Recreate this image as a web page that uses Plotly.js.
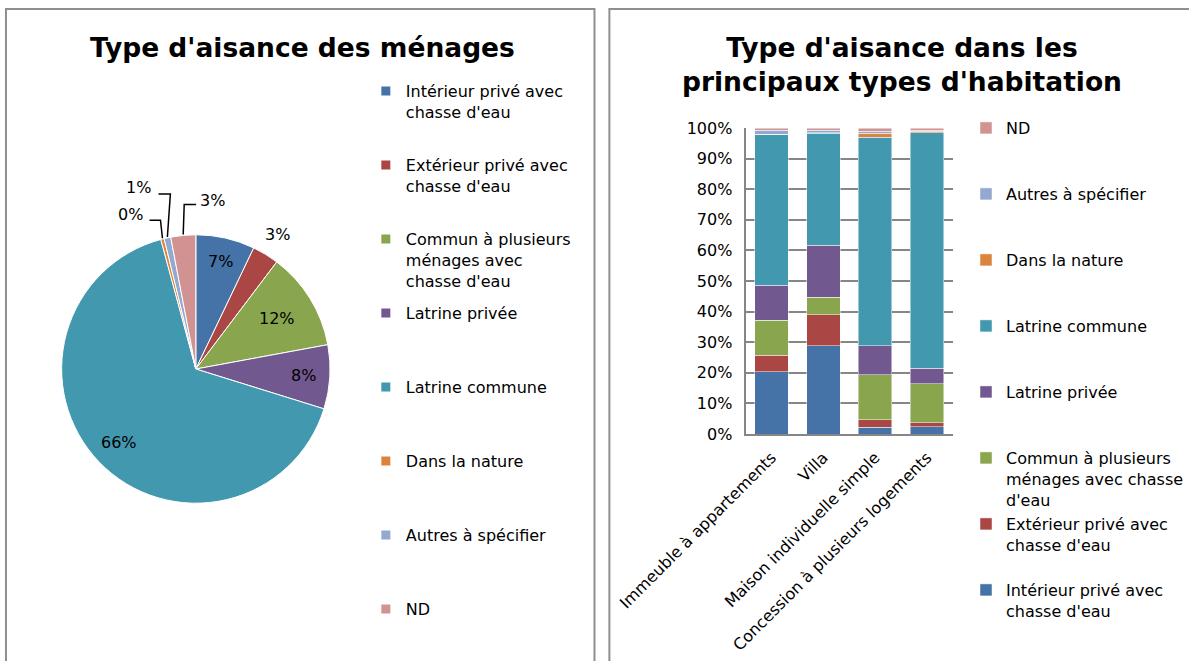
<!DOCTYPE html>
<html><head><meta charset="utf-8">
<script src="https://cdn.plot.ly/plotly-3.0.1.min.js"></script>
<style>html,body{margin:0;padding:0;background:#fff}#chart{width:1189px;height:661px}</style>
</head><body><div id="chart"></div>
<script>
// ---------- DATA ----------
const pieCategories = ["Intérieur privé avec chasse d'eau", "Extérieur privé avec chasse d'eau",
  "Commun à plusieurs ménages avec chasse d'eau", "Latrine privée", "Latrine commune",
  "Dans la nature", "Autres à spécifier", "ND"];
const pieValues = [7.1, 3.2, 11.8, 7.7, 66.0, 0.4, 0.8, 3.0];
const pieLegendLabels = ["Intérieur privé avec<br>chasse d'eau", "Extérieur privé avec<br>chasse d'eau",
  "Commun à plusieurs<br>ménages avec<br>chasse d'eau", "Latrine privée", "Latrine commune",
  "Dans la nature", "Autres à spécifier", "ND"];

const habitations = ["Immeuble à appartements", "Villa", "Maison individuelle simple", "Concession à plusieurs logements"];
const interieurPrive = [20.4, 28.8, 2.2, 2.4];
const exterieurPrive = [5.4, 10.1, 2.5, 1.3];
const communPlusieurs = [11.3, 5.8, 14.6, 12.8];
const latrinePrivee = [11.5, 17.0, 9.5, 5.0];
const latrineCommune = [49.3, 36.6, 68.2, 77.0];
const dansNature = [0.1, 0.2, 1.3, 0.5];
const autresSpecifier = [1.2, 0.8, 0.7, 0.3];
const nonDeclare = [0.8, 0.7, 1.0, 0.7];
const barLegendLabels = ["Intérieur privé avec<br>chasse d'eau", "Extérieur privé avec<br>chasse d'eau",
  "Commun à plusieurs<br>ménages avec chasse<br>d'eau", "Latrine privée", "Latrine commune",
  "Dans la nature", "Autres à spécifier", "ND"];
const yTickValues = [0, 10, 20, 30, 40, 50, 60, 70, 80, 90, 100];
const yTickLabels = ["0%", "10%", "20%", "30%", "40%", "50%", "60%", "70%", "80%", "90%", "100%"];

const titleLeft = "Type d'aisance des ménages";
const titleRight = "Type d'aisance dans les<br>principaux types d'habitation";

// ---------- STYLE ----------
const W = 1189, H = 661;
const px = x => x / W, py = y => 1 - y / H;
const FONT = 'DejaVu Sans, Verdana, sans-serif';
const GRID = '#868686';
const colors = ['#4572A7', '#AA4643', '#89A54E', '#71588F', '#4198AF', '#DB843D', '#93A9CF', '#D19392'];

function pad(lab, n) {
  let l = lab.split('<br>').length;
  while (l < n) { lab += '<br>\u00a0'; l++; }
  return lab;
}

const traces = [];
const pieBox = {cx: 197, cy: 369, r: 135};
traces.push({
  type: 'pie', values: pieValues, labels: pieCategories, sort: false,
  direction: 'clockwise', rotation: 0,
  marker: {colors: colors, line: {color: '#ffffff', width: 1}},
  textinfo: 'none', hoverinfo: 'label+percent', showlegend: false,
  domain: {x: [px(pieBox.cx - pieBox.r), px(pieBox.cx + pieBox.r)], y: [py(pieBox.cy + pieBox.r), py(pieBox.cy - pieBox.r)]}
});

// legend entries for pie (one per category); all but the last padded to equal slot height
pieLegendLabels.forEach((lab, i) => traces.push({
  type: 'scatter', mode: 'markers', x: [null], y: [null], xaxis: 'x2', yaxis: 'y2',
  name: i < pieLegendLabels.length - 1 ? pad(lab, 3) : lab,
  marker: {symbol: 'square', size: 9, color: colors[i]},
  legend: 'legend', legendgroup: 'p' + i, legendrank: i + 1, hoverinfo: 'skip'
}));

const barSeries = [interieurPrive, exterieurPrive, communPlusieurs, latrinePrivee, latrineCommune, dansNature, autresSpecifier, nonDeclare];
barSeries.forEach((vals, i) => traces.push({
  type: 'bar', x: habitations, y: vals, name: i > 0 ? pad(barLegendLabels[i], 3) : barLegendLabels[i],
  marker: {color: colors[i], line: {color: 'rgba(255,255,255,0.6)', width: 0.8}},
  legend: 'legend2', legendgroup: 'b' + i, legendrank: 100 - i, xaxis: 'x', yaxis: 'y',
  hovertemplate: '%{x}: %{y}%<extra>' + pieCategories[i] + '</extra>'
}));

// ---------- PIE LABELS ----------
const total = pieValues.reduce((a, b) => a + b, 0);
const labelMode = ['in', 'out', 'in', 'in', 'in', 'lead', 'lead', 'lead'];
const labelRadius = [0.82, 1.17, 0.71, 0.8, 0.79, 1, 1, 1];
// leader offsets (px) relative to slice edge point: elbow, line end, text centre
const leaders = {
  5: {elbow: [-2, -18], end: [-13, -18], text: [-32, -24]},
  6: {elbow: [3, -43], end: [-9, -43], text: [-29, -50]},
  7: {elbow: [1, -30], end: [13, -30], text: [29, -34]}
};
const annotations = [];
const shapes = [];
let cum = 0;
pieValues.forEach((v, i) => {
  const mid = (cum + v / 2) / total * 2 * Math.PI;
  cum += v;
  const txt = Math.round(v / total * 100) + '%';
  let tx, ty;
  if (labelMode[i] === 'lead') {
    const ex = pieBox.cx + pieBox.r * Math.sin(mid), ey = pieBox.cy - pieBox.r * Math.cos(mid);
    const L = leaders[i];
    shapes.push({type: 'path', xref: 'paper', yref: 'paper',
      path: `M${px(ex)},${py(ey)} L${px(ex + L.elbow[0])},${py(ey + L.elbow[1])} L${px(ex + L.end[0])},${py(ey + L.end[1])}`,
      line: {color: '#000', width: 1.5}});
    tx = ex + L.text[0]; ty = ey + L.text[1];
  } else {
    const rr = pieBox.r * labelRadius[i];
    tx = pieBox.cx + rr * Math.sin(mid); ty = pieBox.cy - rr * Math.cos(mid);
  }
  annotations.push({x: px(tx), y: py(ty), xref: 'paper', yref: 'paper', text: txt, showarrow: false,
    xanchor: 'center', yanchor: 'middle', font: {size: 16, color: '#000', family: FONT}});
});

annotations.push({x: px(304), y: py(47.5), xref: 'paper', yref: 'paper', text: titleLeft, showarrow: false,
  xanchor: 'center', yanchor: 'middle', font: {size: 26.5, color: '#000', family: FONT, weight: 'bold'}});
annotations.push({x: px(907), y: py(64.5), xref: 'paper', yref: 'paper', text: titleRight, showarrow: false,
  xanchor: 'center', yanchor: 'middle', font: {size: 26.5, color: '#000', family: FONT, weight: 'bold'}});

// panel borders
shapes.push({type: 'rect', xref: 'paper', yref: 'paper', x0: px(6), x1: px(598), y0: py(680), y1: py(9), line: {color: '#8f8f8f', width: 2}});
shapes.push({type: 'rect', xref: 'paper', yref: 'paper', x0: px(613), x1: px(1200), y0: py(680), y1: py(9), line: {color: '#8f8f8f', width: 2}});

const layout = {
  width: W, height: H, margin: {l: 0, r: 0, t: 0, b: 0}, paper_bgcolor: '#fff', plot_bgcolor: 'rgba(0,0,0,0)',
  font: {family: FONT, size: 16, color: '#000'},
  barmode: 'stack', bargap: 0.355, showlegend: true,
  xaxis: {domain: [px(750), px(958.5)], anchor: 'y', showline: true, linecolor: GRID, linewidth: 2,
    tickangle: -45, ticks: '', showgrid: false, tickfont: {size: 16}, ticklabelstandoff: 6, fixedrange: true},
  yaxis: {domain: [py(434), py(128)], anchor: 'x', range: [0, 100], tickvals: yTickValues, ticktext: yTickLabels,
    showgrid: true, gridcolor: GRID, gridwidth: 1.5, showline: true, linecolor: GRID, linewidth: 2,
    zeroline: false, ticks: '', tickfont: {size: 16}, ticklabelstandoff: 8, fixedrange: true},
  xaxis2: {visible: false, domain: [0, 0.001], anchor: 'y2'},
  yaxis2: {visible: false, domain: [0, 0.001], anchor: 'x2'},
  legend: {x: px(368), y: py(74), xanchor: 'left', yanchor: 'top', font: {size: 16}, valign: 'top',
    tracegroupgap: 8.6, traceorder: 'grouped', bgcolor: 'rgba(0,0,0,0)', borderwidth: 0, maxheight: 650},
  legend2: {x: px(972), y: py(111), xanchor: 'left', yanchor: 'top', font: {size: 16}, valign: 'top',
    tracegroupgap: 0.6, traceorder: 'grouped', bgcolor: 'rgba(0,0,0,0)', borderwidth: 0, maxheight: 650},
  annotations: annotations, shapes: shapes
};

Plotly.newPlot('chart', traces, layout, {displayModeBar: false, responsive: false});
</script>
</body></html>
